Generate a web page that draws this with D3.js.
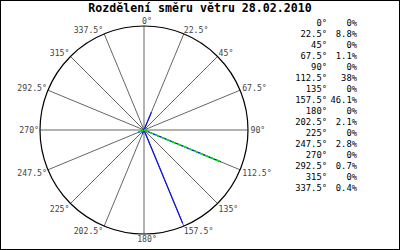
<!DOCTYPE html>
<html>
<head>
<meta charset="utf-8">
<script src="https://cdn.jsdelivr.net/npm/d3@7"></script>
<style>
body{margin:0;background:#fff}
svg{display:block}
</style>
</head>
<body>
<div id="chart"></div>
<script>
var title = "Rozdělení směru větru 28.02.2010"
var directions = [0,22.5,45,67.5,90,112.5,135,157.5,180,202.5,225,247.5,270,292.5,315,337.5]
var shares = [0,8.8,0,1.1,0,38,0,46.1,0,2.1,0,2.8,0,0.7,0,0.4]
var shareLabels = ["0%","8.8%","0%","1.1%","0%","38%","0%","46.1%","0%","2.1%","0%","2.8%","0%","0.7%","0%","0.4%"]
var second = [0,0,0,1.1,0,38,0,0,0,0,0,2.8,0,0,0,0]

var W = 400, H = 250
var cx = 144, cy = 130, R = 104
var font = "'DejaVu Sans Mono', 'Liberation Mono', monospace"

var svg = d3.select("#chart").append("svg").attr("width",W).attr("height",H)

svg.append("rect").attr("x",0.5).attr("y",0.5).attr("width",W-1).attr("height",H-1)
  .attr("fill","#fff").attr("stroke","#000")

svg.append("text").text(title).attr("x",200).attr("y",12)
  .attr("text-anchor","middle").attr("font-family",font).attr("font-weight","bold")
  .attr("font-size","11.6px").attr("fill","#000")

var angle = d3.scaleLinear().domain([0,360]).range([0,2*Math.PI])
var rScale = d3.scaleLinear().domain([0,47.5]).range([0,R])

var g = svg.append("g").attr("transform","translate("+cx+","+cy+")")

function px(a,r){ return Math.sin(angle(a))*r }
function py(a,r){ return -Math.cos(angle(a))*r }

// spokes
g.selectAll("line.spoke").data(directions).enter().append("line")
  .attr("class","spoke")
  .attr("x1",0).attr("y1",0)
  .attr("x2",function(d){return px(d,R)})
  .attr("y2",function(d){return py(d,R)})
  .attr("stroke","#666").attr("stroke-width",1)

g.append("circle").attr("r",R).attr("fill","none").attr("stroke","#000").attr("stroke-width",1.2)

// angle labels
g.selectAll("text.ang").data(directions).enter().append("text")
  .attr("class","ang")
  .text(function(d){return d+"°"})
  .attr("font-family",font).attr("font-size","8.2px").attr("fill","#444")
  .attr("text-anchor",function(d){
    var s = Math.sin(angle(d))
    return Math.abs(s) < 0.01 ? "middle" : (s > 0 ? "start" : "end")
  })
  .attr("x",function(d){
    var s = Math.sin(angle(d))
    if (Math.abs(s) < 0.01) return px(d,R)+3
    return s > 0 ? px(d,R) + 3*s*s - 0.5 : px(d,R) - 1
  })
  .attr("y",function(d){
    var c = Math.cos(angle(d))
    var off = c > 0 ? -4.5*c : Math.min(-9*c, 5.5)
    return py(d,R) + off + 2.8
  })

// data polygons
var line = d3.lineRadial()
  .angle(function(d,i){return angle(directions[i])})
  .radius(function(d){return rScale(d)})
  .curve(d3.curveLinearClosed)

g.append("path").attr("d",line(shares)).attr("fill","none")
  .attr("stroke","#1010ee").attr("stroke-width",1.2)
g.append("path").attr("d",line(second)).attr("fill","none")
  .attr("stroke","#00ee00").attr("stroke-width",1.5).attr("stroke-dasharray","3,3")

// legend
var leg = svg.append("g")
leg.selectAll("text.dir").data(directions).enter().append("text")
  .attr("class","dir").text(function(d){return d+"°"})
  .attr("x",327).attr("y",function(d,i){return 26+i*11})
  .attr("text-anchor","end").attr("font-family",font).attr("font-size","8.8px").attr("fill","#000")
leg.selectAll("text.pct").data(shareLabels).enter().append("text")
  .attr("class","pct").text(function(d){return d})
  .attr("x",357).attr("y",function(d,i){return 26+i*11})
  .attr("text-anchor","end").attr("font-family",font).attr("font-size","8.8px").attr("fill","#000")
</script>
</body>
</html>
